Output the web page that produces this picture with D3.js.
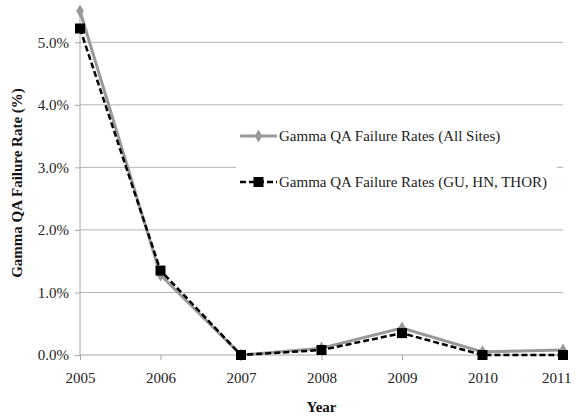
<!DOCTYPE html>
<meta charset="utf-8">
<script src="https://d3js.org/d3.v7.min.js"></script>
<style>
  body { margin: 0; background: #fff; }
  text { font-family: "Liberation Serif", "Times New Roman", serif; }
</style>
<div id="chart"></div>
<script>
// data
var years = [2005, 2006, 2007, 2008, 2009, 2010, 2011];
var allSites = [5.50, 1.28, 0.00, 0.11, 0.43, 0.05, 0.08];
var guHnThor = [5.22, 1.35, 0.00, 0.08, 0.35, 0.00, 0.00];
var yTicks = [0, 1, 2, 3, 4, 5];
var seriesNames = ["Gamma QA Failure Rates (All Sites)", "Gamma QA Failure Rates (GU, HN, THOR)"];

var W = 576, H = 416;
var margin = {top: 11, right: 13, bottom: 61, left: 80},
    width = W - margin.left - margin.right,
    height = H - margin.top - margin.bottom;

var svg = d3.select("#chart").append("svg")
    .attr("width", W).attr("height", H);
var g = svg.append("g")
    .attr("transform", "translate(" + margin.left + "," + margin.top + ")");

var x = d3.scaleLinear().domain([2005, 2011]).range([0, width]);
var y = d3.scaleLinear().domain([0, 5.5]).range([height, 0]);

// gridlines
g.append("g").selectAll("line")
  .data(yTicks.slice(1))
  .enter().append("line")
    .attr("x1", 0).attr("x2", width)
    .attr("y1", function(d) { return y(d); })
    .attr("y2", function(d) { return y(d); })
    .attr("stroke", "#b3b3b3").attr("stroke-width", 1);

// y axis
var yAxis = g.append("g")
  .call(d3.axisLeft(y).tickValues(yTicks).tickSize(5).tickPadding(6)
    .tickFormat(function(d) { return d3.format(".1f")(d) + "%"; }));
yAxis.select(".domain").attr("stroke", "#a6a6a6").attr("d", "M0," + height + "V0");
yAxis.selectAll(".tick line").attr("stroke", "#a6a6a6");
yAxis.selectAll("text").attr("font-size", 15).attr("fill", "#222");

// x axis
var xAxis = g.append("g")
  .attr("transform", "translate(0," + height + ")")
  .call(d3.axisBottom(x).tickValues(years).tickSize(5).tickPadding(12)
    .tickFormat(d3.format("d")));
xAxis.select(".domain").attr("stroke", "#a6a6a6").attr("d", "M0,0H" + width);
xAxis.selectAll(".tick line").attr("stroke", "#a6a6a6");
xAxis.selectAll("text").attr("font-size", 15).attr("fill", "#222");
// last label sits against the right edge
xAxis.selectAll(".tick text").filter(function(d) { return d === 2011; })
  .attr("text-anchor", "end").attr("dx", 8);

// axis titles
svg.append("text")
  .attr("transform", "translate(22," + (margin.top + height / 2) + ") rotate(-90)")
  .attr("text-anchor", "middle")
  .attr("font-size", 15).attr("font-weight", "bold").attr("fill", "#111")
  .text("Gamma QA Failure Rate (%)");
svg.append("text")
  .attr("x", margin.left + width / 2).attr("y", 412)
  .attr("text-anchor", "middle")
  .attr("font-size", 15).attr("font-weight", "bold").attr("fill", "#111")
  .text("Year");

var line = d3.line()
  .x(function(d, i) { return x(years[i]); })
  .y(function(d) { return y(d); });

// legend background hides the gridline behind it
g.append("rect")
  .attr("x", 156).attr("y", 100).attr("width", 321).attr("height", 95)
  .attr("fill", "#fff");

// all sites series (gray, diamonds)
g.append("path").datum(allSites)
  .attr("d", line).attr("fill", "none")
  .attr("stroke", "#999").attr("stroke-width", 3);
var diamond = d3.symbol().type(d3.symbolDiamond).size(50);
g.selectAll(".dia").data(allSites).enter().append("path")
  .attr("class", "dia")
  .attr("d", diamond)
  .attr("transform", function(d, i) { return "translate(" + x(years[i]) + "," + y(d) + ")"; })
  .attr("fill", "#999");

// GU, HN, THOR series (black dashed, squares)
g.append("path").datum(guHnThor)
  .attr("d", line).attr("fill", "none")
  .attr("stroke", "#000").attr("stroke-width", 2.5)
  .attr("stroke-dasharray", "6,3");
g.selectAll(".sq").data(guHnThor).enter().append("rect")
  .attr("class", "sq")
  .attr("x", function(d, i) { return x(years[i]) - 5; })
  .attr("y", function(d) { return y(d) - 5; })
  .attr("width", 10).attr("height", 10)
  .attr("fill", "#000");

// legend
var lg = g.append("g").attr("transform", "translate(160,125)");
lg.append("line").attr("x1", 0).attr("x2", 37).attr("y1", 0).attr("y2", 0)
  .attr("stroke", "#999").attr("stroke-width", 3);
lg.append("path").attr("d", diamond).attr("transform", "translate(18.5,0)").attr("fill", "#999");
lg.append("text").attr("x", 39).attr("y", 5).attr("font-size", 15).attr("fill", "#222")
  .text(seriesNames[0]);
lg.append("line").attr("x1", 0).attr("x2", 37).attr("y1", 46).attr("y2", 46)
  .attr("stroke", "#000").attr("stroke-width", 2.5).attr("stroke-dasharray", "6,3");
lg.append("rect").attr("x", 13.5).attr("y", 41).attr("width", 10).attr("height", 10).attr("fill", "#000");
lg.append("text").attr("x", 39).attr("y", 51).attr("font-size", 15).attr("fill", "#222")
  .text(seriesNames[1]);
</script>
